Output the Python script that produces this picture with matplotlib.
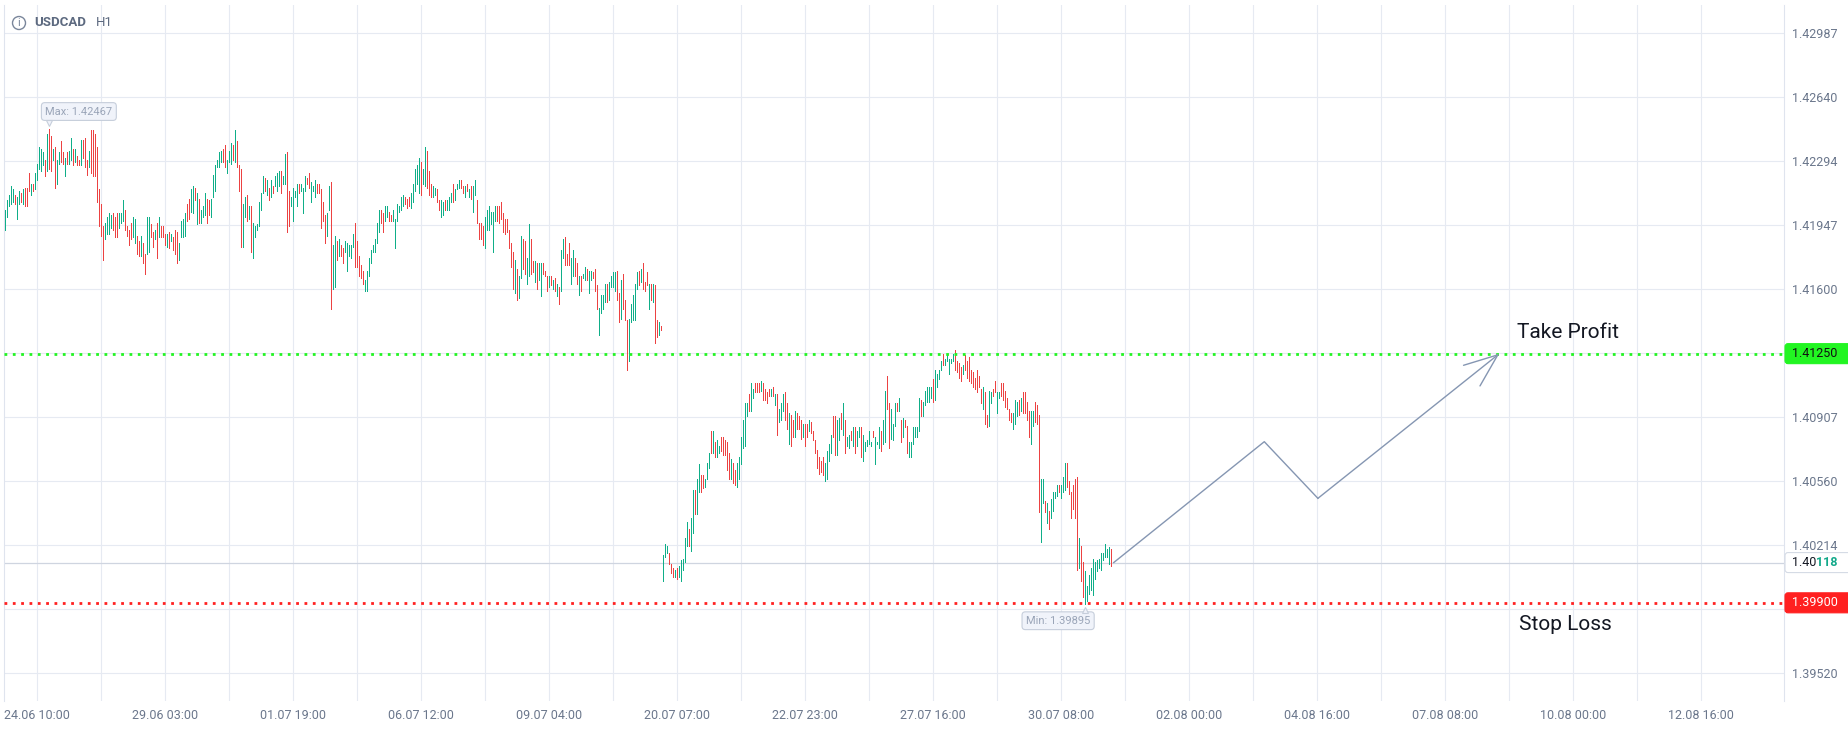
import matplotlib
matplotlib.use("Agg")
import matplotlib.pyplot as plt
from matplotlib.patches import FancyBboxPatch, Circle
from matplotlib.transforms import IdentityTransform, offset_copy

plt.rcParams['font.family'] = ['Roboto', 'DejaVu Sans']

# -----------------------------
# Chart data (H1 bars)
# -----------------------------
SYMBOL = "USDCAD"
TIMEFRAME = "H1"

HIGHS = [
    1.4203, 1.4208, 1.4211, 1.4216, 1.4214, 1.4211, 1.4210, 1.4213, 1.4212, 1.4214,
    1.4215, 1.4215, 1.4223, 1.4217, 1.4217, 1.4223, 1.4228, 1.4237, 1.4236, 1.4234,
    1.4230, 1.4244, 1.42467, 1.4243, 1.4236, 1.4237, 1.4230, 1.4234, 1.4240, 1.4234,
    1.4231, 1.4234, 1.4235, 1.4242, 1.4236, 1.4236, 1.4232, 1.4230, 1.4241, 1.4241,
    1.4242, 1.4230, 1.4235, 1.4246, 1.4246, 1.4244, 1.4237, 1.4214, 1.4206, 1.4194,
    1.4196, 1.4199, 1.4201, 1.4200, 1.4201, 1.4199, 1.4201, 1.4201, 1.4201, 1.4208,
    1.4203, 1.4194, 1.4192, 1.4196, 1.4199, 1.4198, 1.4189, 1.4186, 1.4189, 1.4185,
    1.4179, 1.4199, 1.4199, 1.4195, 1.4191, 1.4192, 1.4196, 1.4199, 1.4194, 1.4194,
    1.4190, 1.4190, 1.4191, 1.4190, 1.4188, 1.4192, 1.4191, 1.4185, 1.4197, 1.4198,
    1.4201, 1.4206, 1.4209, 1.4214, 1.4216, 1.4215, 1.4212, 1.4209, 1.4203, 1.4205,
    1.4212, 1.4209, 1.4208, 1.4209, 1.4222, 1.4227, 1.4230, 1.4234, 1.4235, 1.4236,
    1.4238, 1.4230, 1.4235, 1.4239, 1.4238, 1.4246, 1.4240, 1.4227, 1.4225, 1.4206,
    1.4210, 1.4211, 1.4205, 1.4205, 1.4196, 1.4194, 1.4195, 1.4207, 1.4212, 1.4221,
    1.4220, 1.4219, 1.4215, 1.4219, 1.4216, 1.4221, 1.4223, 1.4224, 1.4224, 1.4221,
    1.4233, 1.4234, 1.4213, 1.4210, 1.4215, 1.4213, 1.4217, 1.4217, 1.4217, 1.4215,
    1.4221, 1.4220, 1.4223, 1.4218, 1.4216, 1.4219, 1.4217, 1.4217, 1.4214, 1.4207,
    1.4200, 1.4201, 1.4216, 1.4218, 1.4184, 1.4189, 1.4186, 1.4187, 1.4184, 1.4182,
    1.4186, 1.4185, 1.4184, 1.4184, 1.4190, 1.4196, 1.4186, 1.4178, 1.4173, 1.4170,
    1.4165, 1.4170, 1.4177, 1.4181, 1.4184, 1.4187, 1.4196, 1.4203, 1.4203, 1.4201,
    1.4205, 1.4205, 1.4202, 1.4200, 1.4203, 1.4198, 1.4206, 1.4205, 1.4210, 1.4211,
    1.4210, 1.4209, 1.4210, 1.4212, 1.4217, 1.4225, 1.4227, 1.4231, 1.4229, 1.4225,
    1.4237, 1.4235, 1.4224, 1.4217, 1.4216, 1.4215, 1.4214, 1.4208, 1.4208, 1.4207,
    1.4208, 1.4208, 1.4210, 1.4212, 1.4217, 1.4214, 1.4217, 1.4219, 1.4219, 1.4216,
    1.4216, 1.4217, 1.4214, 1.4216, 1.4216, 1.4219, 1.4208, 1.4196, 1.4196, 1.4194,
    1.4199, 1.4203, 1.4205, 1.4202, 1.4202, 1.4205, 1.4205, 1.4205, 1.4207, 1.4201,
    1.4198, 1.4198, 1.4192, 1.4185, 1.4180, 1.4176, 1.4171, 1.4167, 1.4189, 1.4187,
    1.4186, 1.4177, 1.4195, 1.4187, 1.4175, 1.4175, 1.4174, 1.4174, 1.4174, 1.4174,
    1.4170, 1.4167, 1.4167, 1.4167, 1.4165, 1.4166, 1.4163, 1.4161, 1.4181, 1.4187,
    1.4188, 1.4179, 1.4185, 1.4177, 1.4181, 1.4177, 1.4174, 1.4167, 1.4167, 1.4168,
    1.4172, 1.4171, 1.4170, 1.4170, 1.4169, 1.4171, 1.4162, 1.4150, 1.4157, 1.4157,
    1.4163, 1.4163, 1.4164, 1.4167, 1.4169, 1.4169, 1.4170, 1.4158, 1.4165, 1.4168,
    1.4154, 1.4143, 1.4144, 1.4152, 1.4157, 1.4163, 1.4169, 1.4170, 1.4171, 1.4174,
    1.4164, 1.4169, 1.4163, 1.4163, 1.4163, 1.4162, 1.4143, 1.4142, 1.4140, 1.4016,
    1.4022, 1.4021, 1.4017, 1.4011, 1.4009, 1.4008, 1.4009, 1.4010, 1.4013, 1.4014,
    1.4025, 1.4034, 1.4030, 1.4036, 1.4051, 1.4051, 1.4057, 1.4065, 1.4059, 1.4059,
    1.4057, 1.4066, 1.4071, 1.4083, 1.4083, 1.4077, 1.4078, 1.4075, 1.4080, 1.4080,
    1.4078, 1.4077, 1.4071, 1.4068, 1.4066, 1.4062, 1.4066, 1.4069, 1.4080, 1.4089,
    1.4098, 1.4098, 1.4103, 1.4109, 1.4106, 1.4109, 1.4109, 1.4109, 1.4110, 1.4109,
    1.4106, 1.4104, 1.4106, 1.4106, 1.4107, 1.4103, 1.4103, 1.4095, 1.4098, 1.4103,
    1.4104, 1.4098, 1.4093, 1.4092, 1.4089, 1.4094, 1.4093, 1.4091, 1.4089, 1.4087,
    1.4087, 1.4087, 1.4089, 1.4088, 1.4083, 1.4078, 1.4073, 1.4069, 1.4067, 1.4069,
    1.4066, 1.4072, 1.4076, 1.4081, 1.4091, 1.4091, 1.4089, 1.4090, 1.4093, 1.4098,
    1.4089, 1.4080, 1.4081, 1.4083, 1.4085, 1.4085, 1.4083, 1.4085, 1.4085, 1.4081,
    1.4077, 1.4078, 1.4083, 1.4077, 1.4083, 1.4080, 1.4077, 1.4085, 1.4083, 1.4089,
    1.4105, 1.4113, 1.4098, 1.4095, 1.4087, 1.4098, 1.4098, 1.4101, 1.4089, 1.4090,
    1.4089, 1.4086, 1.4077, 1.4077, 1.4085, 1.4085, 1.4085, 1.4101, 1.4100, 1.4099,
    1.4105, 1.4107, 1.4107, 1.4107, 1.4111, 1.4116, 1.4114, 1.4116, 1.4121, 1.4125,
    1.4122, 1.4125, 1.4122, 1.4122, 1.4125, 1.4127, 1.4121, 1.4120, 1.4118, 1.4119,
    1.4124, 1.4121, 1.4123, 1.4116, 1.4115, 1.4112, 1.4116, 1.4113, 1.4106, 1.4107,
    1.4104, 1.4092, 1.4105, 1.4104, 1.4106, 1.4110, 1.4104, 1.4104, 1.4109, 1.4109,
    1.4105, 1.4101, 1.4095, 1.4093, 1.4093, 1.4100, 1.4099, 1.4100, 1.4101, 1.4104,
    1.4104, 1.4099, 1.4094, 1.4094, 1.4094, 1.4099, 1.4097, 1.4092, 1.4057, 1.4057,
    1.4045, 1.4044, 1.4040, 1.4046, 1.4050, 1.4050, 1.4054, 1.4054, 1.4054, 1.4058,
    1.4066, 1.4066, 1.4056, 1.4050, 1.4054, 1.4057, 1.4058, 1.4025, 1.4021, 1.4012,
    1.4007, 1.3999, 1.4005, 1.4009, 1.4014, 1.4012, 1.4013, 1.4014, 1.4017, 1.4017,
    1.4022, 1.4019, 1.4020, 1.4019,
]

LOWS = [
    1.4192, 1.4199, 1.4205, 1.4206, 1.4207, 1.4206, 1.4198, 1.4206, 1.4207, 1.4206,
    1.4205, 1.4205, 1.4213, 1.4211, 1.4213, 1.4214, 1.4219, 1.4225, 1.4224, 1.4227,
    1.4221, 1.4224, 1.4225, 1.4224, 1.4230, 1.4215, 1.4217, 1.4228, 1.4229, 1.4228,
    1.4221, 1.4228, 1.4228, 1.4230, 1.4227, 1.4229, 1.4227, 1.4227, 1.4227, 1.4231,
    1.4226, 1.4222, 1.4226, 1.4223, 1.4221, 1.4221, 1.4207, 1.4194, 1.4189, 1.4176,
    1.4187, 1.4190, 1.4190, 1.4193, 1.4192, 1.4188, 1.4188, 1.4193, 1.4196, 1.4197,
    1.4192, 1.4189, 1.4184, 1.4187, 1.4188, 1.4185, 1.4179, 1.4178, 1.4178, 1.4174,
    1.4168, 1.4179, 1.4180, 1.4188, 1.4183, 1.4187, 1.4177, 1.4188, 1.4188, 1.4188,
    1.4184, 1.4183, 1.4182, 1.4186, 1.4181, 1.4179, 1.4174, 1.4176, 1.4188, 1.4188,
    1.4189, 1.4197, 1.4198, 1.4202, 1.4201, 1.4208, 1.4195, 1.4196, 1.4196, 1.4199,
    1.4200, 1.4196, 1.4200, 1.4199, 1.4210, 1.4213, 1.4226, 1.4226, 1.4229, 1.4229,
    1.4226, 1.4223, 1.4229, 1.4228, 1.4230, 1.4229, 1.4226, 1.4213, 1.4183, 1.4183,
    1.4199, 1.4197, 1.4198, 1.4180, 1.4177, 1.4188, 1.4192, 1.4194, 1.4203, 1.4212,
    1.4213, 1.4211, 1.4208, 1.4210, 1.4212, 1.4216, 1.4213, 1.4216, 1.4212, 1.4217,
    1.4217, 1.4191, 1.4194, 1.4205, 1.4197, 1.4210, 1.4205, 1.4212, 1.4213, 1.4201,
    1.4213, 1.4217, 1.4215, 1.4207, 1.4213, 1.4210, 1.4212, 1.4212, 1.4193, 1.4197,
    1.4185, 1.4189, 1.4203, 1.4149, 1.4160, 1.4161, 1.4176, 1.4178, 1.4178, 1.4174,
    1.4180, 1.4170, 1.4178, 1.4177, 1.4183, 1.4172, 1.4172, 1.4167, 1.4166, 1.4163,
    1.4159, 1.4159, 1.4167, 1.4174, 1.4180, 1.4180, 1.4185, 1.4191, 1.4196, 1.4191,
    1.4197, 1.4199, 1.4197, 1.4197, 1.4197, 1.4182, 1.4197, 1.4202, 1.4203, 1.4205,
    1.4206, 1.4204, 1.4205, 1.4204, 1.4207, 1.4213, 1.4217, 1.4212, 1.4211, 1.4217,
    1.4216, 1.4215, 1.4211, 1.4210, 1.4210, 1.4211, 1.4207, 1.4203, 1.4199, 1.4200,
    1.4203, 1.4203, 1.4203, 1.4207, 1.4207, 1.4208, 1.4214, 1.4215, 1.4215, 1.4212,
    1.4210, 1.4213, 1.4210, 1.4209, 1.4202, 1.4211, 1.4196, 1.4187, 1.4187, 1.4184,
    1.4182, 1.4192, 1.4192, 1.4195, 1.4180, 1.4197, 1.4197, 1.4196, 1.4198, 1.4191,
    1.4190, 1.4191, 1.4182, 1.4172, 1.4160, 1.4158, 1.4154, 1.4155, 1.4166, 1.4171,
    1.4168, 1.4163, 1.4167, 1.4168, 1.4169, 1.4164, 1.4160, 1.4165, 1.4156, 1.4168,
    1.4167, 1.4159, 1.4161, 1.4162, 1.4160, 1.4159, 1.4156, 1.4152, 1.4159, 1.4177,
    1.4173, 1.4173, 1.4173, 1.4163, 1.4167, 1.4167, 1.4163, 1.4157, 1.4159, 1.4166,
    1.4165, 1.4165, 1.4158, 1.4165, 1.4166, 1.4159, 1.4149, 1.4135, 1.4147, 1.4149,
    1.4153, 1.4153, 1.4154, 1.4161, 1.4161, 1.4159, 1.4154, 1.4142, 1.4144, 1.4149,
    1.4143, 1.4116, 1.4121, 1.4142, 1.4143, 1.4143, 1.4160, 1.4162, 1.4164, 1.4160,
    1.4159, 1.4162, 1.4149, 1.4154, 1.4153, 1.4131, 1.4134, 1.4135, 1.4138, 1.4002,
    1.4015, 1.4017, 1.4011, 1.4006, 1.4004, 1.4004, 1.4003, 1.4004, 1.4002, 1.4008,
    1.4012, 1.4021, 1.4021, 1.4018, 1.4028, 1.4038, 1.4038, 1.4050, 1.4050, 1.4052,
    1.4053, 1.4057, 1.4063, 1.4071, 1.4071, 1.4069, 1.4069, 1.4071, 1.4072, 1.4070,
    1.4070, 1.4062, 1.4057, 1.4057, 1.4055, 1.4054, 1.4053, 1.4057, 1.4065, 1.4074,
    1.4075, 1.4091, 1.4094, 1.4094, 1.4101, 1.4104, 1.4104, 1.4104, 1.4105, 1.4100,
    1.4100, 1.4098, 1.4102, 1.4102, 1.4102, 1.4097, 1.4081, 1.4088, 1.4089, 1.4094,
    1.4089, 1.4084, 1.4076, 1.4075, 1.4080, 1.4080, 1.4084, 1.4084, 1.4079, 1.4080,
    1.4075, 1.4080, 1.4083, 1.4082, 1.4078, 1.4071, 1.4063, 1.4060, 1.4061, 1.4059,
    1.4056, 1.4057, 1.4067, 1.4071, 1.4080, 1.4070, 1.4070, 1.4078, 1.4084, 1.4081,
    1.4071, 1.4075, 1.4074, 1.4078, 1.4075, 1.4071, 1.4075, 1.4080, 1.4069, 1.4067,
    1.4072, 1.4075, 1.4076, 1.4075, 1.4080, 1.4065, 1.4076, 1.4074, 1.4072, 1.4076,
    1.4077, 1.4095, 1.4074, 1.4079, 1.4078, 1.4086, 1.4094, 1.4094, 1.4077, 1.4080,
    1.4085, 1.4071, 1.4069, 1.4069, 1.4076, 1.4080, 1.4080, 1.4083, 1.4091, 1.4091,
    1.4097, 1.4099, 1.4099, 1.4101, 1.4099, 1.4100, 1.4107, 1.4111, 1.4116, 1.4119,
    1.4119, 1.4121, 1.4114, 1.4120, 1.4121, 1.4116, 1.4115, 1.4112, 1.4110, 1.4114,
    1.4116, 1.4112, 1.4110, 1.4109, 1.4107, 1.4106, 1.4104, 1.4107, 1.4098, 1.4095,
    1.4087, 1.4085, 1.4086, 1.4098, 1.4102, 1.4104, 1.4093, 1.4101, 1.4102, 1.4100,
    1.4096, 1.4095, 1.4089, 1.4088, 1.4084, 1.4087, 1.4091, 1.4092, 1.4094, 1.4093,
    1.4093, 1.4089, 1.4080, 1.4076, 1.4086, 1.4088, 1.4087, 1.4039, 1.4023, 1.4044,
    1.4039, 1.4033, 1.4030, 1.4036, 1.4040, 1.4047, 1.4048, 1.4050, 1.4047, 1.4050,
    1.4051, 1.4053, 1.4049, 1.4036, 1.4041, 1.4036, 1.4008, 1.4009, 1.4002, 1.3993,
    1.39895, 1.3991, 1.3995, 1.3997, 1.3994, 1.4003, 1.4007, 1.4009, 1.4008, 1.4013,
    1.4015, 1.4015, 1.4011, 1.4010,
]

# G = bar closed up, R = bar closed down
DIRECTION = (
    "GGGGGRGGRG" "RRRGRGGGGG" "RGRRGRGGRR" "GRGGRGRRGR" "RRGRRRRRRR"
    "GGGGRRRGGG" "RRRRGGRRGR" "RGGRRGRGRR" "RGRGRRRGGG" "GRRGGRGRGG"
    "GRRGGGGGGR" "RGGGRGRRRG" "GRGRGGGGGG" "RGRGRGGGRG" "GRRGGGGRGG"
    "GRRGGGRRRR" "RGGRGGRGRR" "GGGGGRRRRR" "GGGGGGGGRR" "GGRRGGGGGG"
    "RRRGGGGGRG" "GRRRGGRRGG" "RGGGRGGGRR" "GRGRGGRRRR" "GGGGGGRRRR"
    "RRRRRGRGGR" "RGGRRGRGGR" "RRGRGRGRGG" "RRRGGRRGRG" "GRGGRRRGGG"
    "GRGGGGRRGR" "RRGGGGGRGR" "RRGRGRRGRG" "GGRRRGRGGG" "GGRGGRGGRR"
    "GGGRGRGGRR" "RRRGRRGGGG" "GGRGGRRRGR" "RRRGRGRGGG" "RRGRRGRRRG"
    "RRGRRRRRRR" "GGGGRRGGRG" "RGGRGRGGRG" "GGGGRGGGRG" "GRRGGGRGRG"
    "RRGGGGGGRG" "GGGGRGGGGR" "GGGGGRRRRG" "RRRRRRRRRG" "RRGGRRGGRR"
    "RRRRGGGRGR" "RRRGGRRRGG" "RGRGGGGRGG" "GRRRRRRGRR" "GGGGGGGGGG"
    "GGGR"
)

TAKE_PROFIT = 1.41250
STOP_LOSS = 1.39900
LAST_PRICE = 1.40118

Y_TICKS = [1.39520, 1.39867, 1.40214, 1.40560, 1.40907, 1.41253,
           1.41600, 1.41947, 1.42294, 1.42640, 1.42987]
Y_HIDDEN = [1.39867, 1.41253]   # covered by the TP / SL price boxes

X_LABELS = ["24.06 10:00", "29.06 03:00", "01.07 19:00", "06.07 12:00",
            "09.07 04:00", "20.07 07:00", "22.07 23:00", "27.07 16:00",
            "30.07 08:00", "02.08 00:00", "04.08 16:00", "07.08 08:00",
            "10.08 00:00", "12.08 16:00"]
X_FIRST = 16     # bar slot of the first date label
X_GRID_STEP = 32
X_GRID_COUNT = 27

# projected path drawn on the chart (bar slot, price)
PATH_X = [554.2, 629.5, 656.3, 747.0]
PATH_Y = [1.40118, 1.40773, 1.40466, 1.41250]

UP_COLOR = '#0fae88'
DOWN_COLOR = '#ec4242'
GRID_COLOR = '#e6eaf2'
LABEL_COLOR = '#6b778c'

# -----------------------------
# Figure / axes
# -----------------------------
W, H = 1848, 729
fig = plt.figure(figsize=(W / 100, H / 100), dpi=100)
ax = fig.add_axes([4 / W, 1 - 701 / H, 1780 / W, 696 / H])
ax.set_xlim(-0.65, 889.35)
ax.set_ylim(1.39368, 1.43139)
ax.set_axisbelow(True)

for side in ['top', 'bottom']:
    ax.spines[side].set_visible(False)
for side in ['left', 'right']:
    ax.spines[side].set_color('#dfe4ee')
    ax.spines[side].set_linewidth(0.8)

# y axis on the right
ax.yaxis.tick_right()
ax.set_yticks(Y_TICKS)
ax.set_yticklabels(["" if v in Y_HIDDEN else f"{v:.5f}" for v in Y_TICKS])
ax.tick_params(axis='y', length=0, pad=5.8, labelsize=9, labelcolor=LABEL_COLOR)

# x axis: grid every 32 bars, a date every second line
xt = [X_FIRST + X_GRID_STEP * k for k in range(X_GRID_COUNT)]
ax.set_xticks(xt)
ax.set_xticklabels([X_LABELS[k // 2] if k % 2 == 0 else "" for k in range(X_GRID_COUNT)])
ax.tick_params(axis='x', length=0, pad=6, labelsize=9, labelcolor=LABEL_COLOR)

ax.grid(True, color=GRID_COLOR, lw=0.8)

# -----------------------------
# Bars
# -----------------------------
xs = list(range(len(HIGHS)))
colors = [UP_COLOR if d == 'G' else DOWN_COLOR for d in DIRECTION]
ax.vlines(xs, LOWS, HIGHS, colors=colors, lw=0.72, antialiased=False, zorder=3)

# -----------------------------
# Levels
# -----------------------------
ax.axhline(LAST_PRICE, color='#cfd5e0', lw=0.9, zorder=2)
ax.axhline(TAKE_PROFIT, color='#22f522', lw=2.0, linestyle=(0, (1, 2)),
           dash_capstyle='butt', zorder=4)
ax.axhline(STOP_LOSS, color='#ff2020', lw=2.0, linestyle=(0, (1, 2)),
           dash_capstyle='butt', zorder=4)

ax.text(756, 1.41362, "Take Profit", fontsize=15, color='#131722', va='center', ha='left')
ax.text(757, 1.39780, "Stop Loss", fontsize=15, color='#131722', va='center', ha='left')

# projected path with open arrow head
path_color = '#8596b2'
ax.plot(PATH_X[:3], PATH_Y[:3], color=path_color, lw=1.0, zorder=5)
ax.annotate("", xy=(PATH_X[3], PATH_Y[3]), xytext=(PATH_X[2], PATH_Y[2]),
            arrowprops=dict(arrowstyle='->,head_length=2.4,head_width=0.95',
                            color=path_color, lw=1.0, shrinkA=0, shrinkB=0,
                            mutation_scale=10), zorder=5)

# -----------------------------
# Max / Min tags
# -----------------------------
tag_box = dict(boxstyle='round,pad=0.35,rounding_size=0.3', fc='#f0f3fa', ec='#c6cedb', lw=0.8)
i_max = HIGHS.index(max(HIGHS))
i_min = LOWS.index(min(LOWS))
ax.annotate(f"Max: {max(HIGHS):.5f}", xy=(i_max, max(HIGHS)), xytext=(-4, 17.5),
            textcoords='offset pixels', ha='left', va='center', fontsize=8,
            color='#9aa5b8', bbox=tag_box, zorder=6)
ax.annotate(f"Min: {min(LOWS):.5f}", xy=(i_min, min(LOWS)), xytext=(5, -17),
            textcoords='offset pixels', ha='right', va='center', fontsize=8,
            color='#9aa5b8', bbox=tag_box, zorder=6)
ax.plot([i_max], [max(HIGHS)], marker='v', ms=4.5, mfc='#f0f3fa', mec='#c6cedb', mew=0.8,
        transform=offset_copy(ax.transData, fig=fig, x=0, y=6, units='dots'), zorder=7)
ax.plot([i_min], [min(LOWS)], marker='^', ms=4.5, mfc='#f0f3fa', mec='#c6cedb', mew=0.8,
        transform=offset_copy(ax.transData, fig=fig, x=0, y=-6, units='dots'), zorder=7)

# -----------------------------
# Price boxes on the right scale
# -----------------------------
pix = IdentityTransform()


def price_box(price, fc, ec):
    y = ax.transData.transform((0, price))[1]
    fig.add_artist(FancyBboxPatch((1785, y - 10), 70, 20,
                                  boxstyle="round,pad=0,rounding_size=3",
                                  transform=pix, fc=fc, ec=ec, lw=0.8))
    return y


y_tp = price_box(TAKE_PROFIT, '#22f522', '#22f522')
fig.text(1792, y_tp, f"{TAKE_PROFIT:.5f}", transform=pix, fontsize=9,
         color='#111111', va='center', ha='left')
y_sl = price_box(STOP_LOSS, '#ff2020', '#ff2020')
fig.text(1792, y_sl, f"{STOP_LOSS:.5f}", transform=pix, fontsize=9,
         color='white', va='center', ha='left')
y_lp = price_box(LAST_PRICE, 'white', '#d5dbe5')
last = f"{LAST_PRICE:.5f}"
t1 = fig.text(1792, y_lp, last[:4], transform=pix, fontsize=9,
              color='#131722', va='center', ha='left')
x_end = t1.get_window_extent(fig.canvas.get_renderer()).x1
fig.text(x_end, y_lp, last[4:], transform=pix, fontsize=9, fontweight='bold',
         color='#13a98a', va='center', ha='left')

# -----------------------------
# Symbol header
# -----------------------------
hdr_y = H - 23
fig.add_artist(Circle((19, hdr_y), 6.5, transform=pix, fill=False, ec='#7a869b', lw=1.0))
fig.text(19, hdr_y, "i", transform=pix, fontsize=8, color='#7a869b', ha='center', va='center')
fig.text(34, hdr_y, SYMBOL, transform=pix, fontsize=9.5, fontweight='bold',
         color='#5d6a80', ha='left', va='center')
fig.text(96, hdr_y, TIMEFRAME, transform=pix, fontsize=9.5,
         color='#5d6a80', ha='left', va='center')

fig.savefig("out.png", dpi=100, facecolor='white')
